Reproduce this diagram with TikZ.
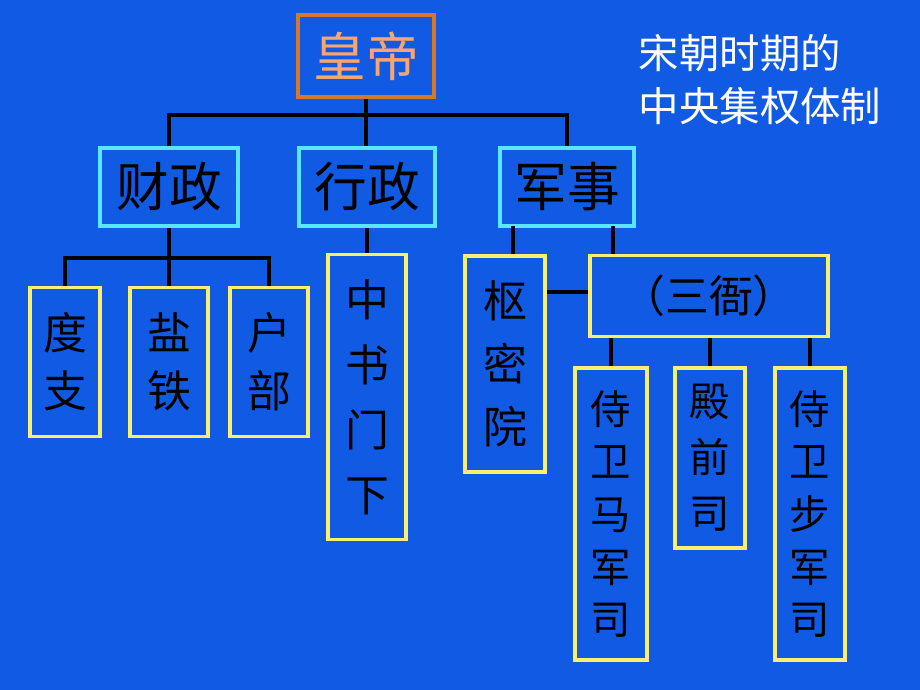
\documentclass[tikz,border=0pt]{standalone}
\usepackage{fontspec}
\newfontfamily\cjk{Noto Sans CJK SC}
\definecolor{bg}{RGB}{16,90,228}
\definecolor{orangeb}{RGB}{215,120,40}
\definecolor{cyanb}{RGB}{90,230,255}
\definecolor{yellowb}{RGB}{250,240,110}
\definecolor{rosetext}{RGB}{250,165,110}
\tikzset{
  office/.style={draw, line width=1.8pt, fill=bg, inner sep=0pt, align=center, font=\cjk\fontsize{25}{31}\selectfont},
  topbox/.style={office, draw=orangeb, text=rosetext, font=\cjk\fontsize{30}{34}\selectfont},
  midbox/.style={office, draw=cyanb, font=\cjk\fontsize{30}{34}\selectfont},
  lowbox/.style={office, draw=yellowb},
  link/.style={line width=2.2pt, black}
}
\begin{document}
\begin{tikzpicture}[x=0.02cm,y=-0.02cm]
\fill[bg] (0,0) rectangle (920,690);

% emperor and title
\node[topbox, minimum width=2.72cm, minimum height=1.64cm] (emperor) at (366,56) {皇帝};
\node[text=white, align=left, font=\cjk\fontsize{23}{30}\selectfont] (title) at (760,80) {宋朝时期的\\中央集权体制};

% three branches
\node[midbox, minimum width=2.76cm, minimum height=1.56cm] (finance) at (169,187) {财政};
\node[midbox, minimum width=2.72cm, minimum height=1.56cm] (admin) at (367,187) {行政};
\node[midbox, minimum width=2.68cm, minimum height=1.56cm] (army) at (567,187) {军事};

% finance offices
\node[lowbox, minimum width=1.40cm, minimum height=2.98cm, font=\cjk\fontsize{25}{33}\selectfont] (duzhi) at (65,362) {度\\支};
\node[lowbox, minimum width=1.56cm, minimum height=2.98cm, font=\cjk\fontsize{25}{33}\selectfont] (yantie) at (169,362) {盐\\铁};
\node[lowbox, minimum width=1.56cm, minimum height=2.98cm, font=\cjk\fontsize{25}{33}\selectfont] (hubu) at (269,362) {户\\部};

% admin office
\node[lowbox, minimum width=1.56cm, minimum height=5.70cm, font=\cjk\fontsize{25}{37}\selectfont] (zhongshu) at (367,397) {中\\书\\门\\下};

% military offices
\node[lowbox, minimum width=1.60cm, minimum height=4.32cm, font=\cjk\fontsize{25}{36}\selectfont] (shumi) at (505,364) {枢\\密\\院};
\node[lowbox, minimum width=4.76cm, minimum height=1.62cm] (sanya) at (709,296) {（三衙）};
\node[lowbox, minimum width=1.44cm, minimum height=5.84cm, font=\cjk\fontsize{23}{30}\selectfont] (majun) at (611,514) {侍\\卫\\马\\军\\司};
\node[lowbox, minimum width=1.40cm, minimum height=3.60cm, font=\cjk\fontsize{23}{32}\selectfont] (dianqian) at (710,458) {殿\\前\\司};
\node[lowbox, minimum width=1.40cm, minimum height=5.84cm, font=\cjk\fontsize{23}{30}\selectfont] (bujun) at (810,514) {侍\\卫\\步\\军\\司};

% connectors
\draw[link] (emperor.south) -- (emperor.south |- admin.north);
\draw[link] (finance.north) |- (366,115) -| (army.north);
\draw[link] (finance.south) -- (169,258);
\draw[link] (duzhi.north) |- (169,258) -| (hubu.north);
\draw[link] (yantie.north) -- (169,258);
\draw[link] (admin.south) -- (zhongshu.north);
\draw[link] (shumi.north -| 513,0) -- (513,226);
\draw[link] (sanya.north -| 613,0) -- (613,226);
\draw[link] (shumi.east |- 0,292) -- (sanya.west |- 0,292);
\draw[link] (sanya.south -| majun.north) -- (majun.north);
\draw[link] (sanya.south -| dianqian.north) -- (dianqian.north);
\draw[link] (sanya.south -| bujun.north) -- (bujun.north);
\end{tikzpicture}
\end{document}
